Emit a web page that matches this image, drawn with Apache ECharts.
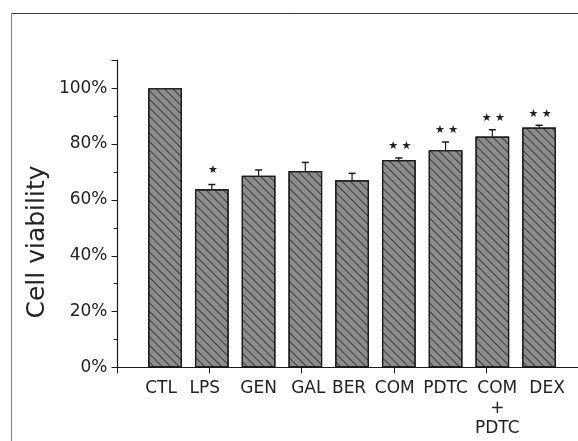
<!DOCTYPE html>
<html>
<head>
<meta charset="utf-8">
<script src="https://cdn.jsdelivr.net/npm/echarts@6/dist/echarts.min.js"></script>
<style>
  html, body { margin: 0; padding: 0; background: #fff; }
  #chart { width: 578px; height: 441px; }
</style>
</head>
<body>
<div id="chart"></div>
<script>
// Treatment groups, mean viability (%) and upper error (SD)
const categories = ['CTL', 'LPS', 'GEN', 'GAL', 'BER', 'COM', 'PDTC', 'COM\n+\nPDTC', 'DEX'];
const viability = [100, 63.8, 68.6, 70.3, 67.0, 74.3, 77.8, 82.7, 85.9];
const errorUp = [0, 1.7, 2.1, 3.1, 2.5, 0.7, 2.9, 2.4, 0.8];
const significance = ['', '*', '', '', '', '**', '**', '**', '**'];
const yTickValues = [0, 20, 40, 60, 80, 100];

const FONT = 'DejaVu Sans';
const INK = '#1a1a1a';

// small horizontal nudges (px) for the category labels, as typeset
const labelNudge = [-4, -7, 0, 3, -3, -4, 0, 5, 8];
const richLabels = {};
labelNudge.forEach((s, i) => {
  richLabels['c' + i] = {
    fontFamily: FONT, fontSize: 17, lineHeight: 20, color: '#222',
    padding: [0, s < 0 ? -2 * s : 0, 0, s > 0 ? 2 * s : 0]
  };
});

const chart = echarts.init(document.getElementById('chart'), null, { renderer: 'canvas' });

const option = {
  animation: false,
  backgroundColor: '#fff',
  grid: [
    // axis frame: y axis line and the long x axis line
    { left: 117.5, top: 60.2, width: 467.5, height: 307.3 },
    // bar area: nine categories
    { left: 141.7, top: 60.2, width: 420.75, height: 307.3 }
  ],
  xAxis: [
    {
      gridIndex: 0, type: 'value', min: 0, max: 10, interval: 2,
      axisLine: { show: true, lineStyle: { color: INK, width: 1.2 } },
      axisTick: { show: true, length: 6, lineStyle: { color: INK, width: 1 } },
      axisLabel: { show: false },
      splitLine: { show: false }
    },
    {
      gridIndex: 1, type: 'category', data: categories,
      axisLine: { show: false },
      axisTick: { show: false },
      axisLabel: {
        interval: 0, margin: 11, color: '#222',
        fontFamily: FONT, fontSize: 17, lineHeight: 20,
        formatter: (v, i) => v.split('\n').map(line => '{c' + i + '|' + line + '}').join('\n'),
        rich: richLabels
      }
    }
  ],
  yAxis: [
    {
      gridIndex: 0, type: 'value', min: 0, max: 110, interval: 20,
      axisLine: { show: true, lineStyle: { color: INK, width: 1.2 } },
      axisTick: { show: true, length: 6, lineStyle: { color: INK, width: 1 } },
      axisLabel: {
        margin: 10, color: '#222', fontFamily: FONT, fontSize: 17,
        formatter: v => (yTickValues.indexOf(v) >= 0 ? v + '%' : '')
      },
      splitLine: { show: false }
    },
    {
      // minor ticks every 10%
      gridIndex: 0, type: 'value', min: 0, max: 110, interval: 10, position: 'left',
      axisLine: { show: false },
      axisTick: { show: true, length: 4, lineStyle: { color: INK, width: 1 } },
      axisLabel: { show: false },
      splitLine: { show: false }
    },
    { gridIndex: 1, type: 'value', min: 0, max: 110, show: false }
  ],
  graphic: [
    { type: 'line', shape: { x1: 11, y1: 13.5, x2: 578, y2: 13.5 }, style: { stroke: '#3a3a3a', lineWidth: 1 } },
    { type: 'line', shape: { x1: 11.5, y1: 13, x2: 11.5, y2: 441 }, style: { stroke: '#8a8a8a', lineWidth: 1.2 } },
    {
      type: 'text', x: 37, y: 242, rotation: Math.PI / 2,
      style: { text: 'Cell viability', font: '25px "DejaVu Sans"', fill: '#222', align: 'center', verticalAlign: 'middle' }
    }
  ],
  series: [
    {
      type: 'bar', xAxisIndex: 1, yAxisIndex: 2,
      data: viability,
      barWidth: 33.7,
      itemStyle: {
        color: '#8c8c8c',
        borderColor: INK,
        borderWidth: 1.2,
        decal: {
          symbol: 'rect', symbolSize: 1,
          color: 'rgba(25,25,25,0.7)',
          dashArrayX: [1, 0],
          dashArrayY: [1, 5],
          rotation: Math.PI / 4
        }
      }
    },
    {
      type: 'custom', xAxisIndex: 1, yAxisIndex: 2,
      data: categories.map((c, i) => [i, viability[i], viability[i] + errorUp[i]]),
      encode: { x: 0, y: [1, 2] },
      renderItem: (params, api) => {
        const i = params.dataIndex;
        const top = api.coord([api.value(0), api.value(1)]);
        const cap = api.coord([api.value(0), api.value(2)]);
        const children = [];
        if (api.value(2) > api.value(1)) {
          children.push({ type: 'line', shape: { x1: top[0], y1: top[1], x2: cap[0], y2: cap[1] }, style: { stroke: INK, lineWidth: 1.2 } });
          children.push({ type: 'line', shape: { x1: cap[0] - 3.5, y1: cap[1], x2: cap[0] + 3.5, y2: cap[1] }, style: { stroke: INK, lineWidth: 1.5 } });
        }
        const sig = significance[i];
        if (sig) {
          children.push({
            type: 'text',
            style: {
              text: sig === '**' ? '★ ★' : '★',
              x: cap[0] + 1, y: cap[1] - (sig === '**' ? 6 : 9),
              align: 'center', verticalAlign: 'bottom',
              font: '11px "DejaVu Sans"', fill: '#222'
            }
          });
        }
        return { type: 'group', children };
      }
    }
  ]
};
chart.setOption(option);
</script>
</body>
</html>
